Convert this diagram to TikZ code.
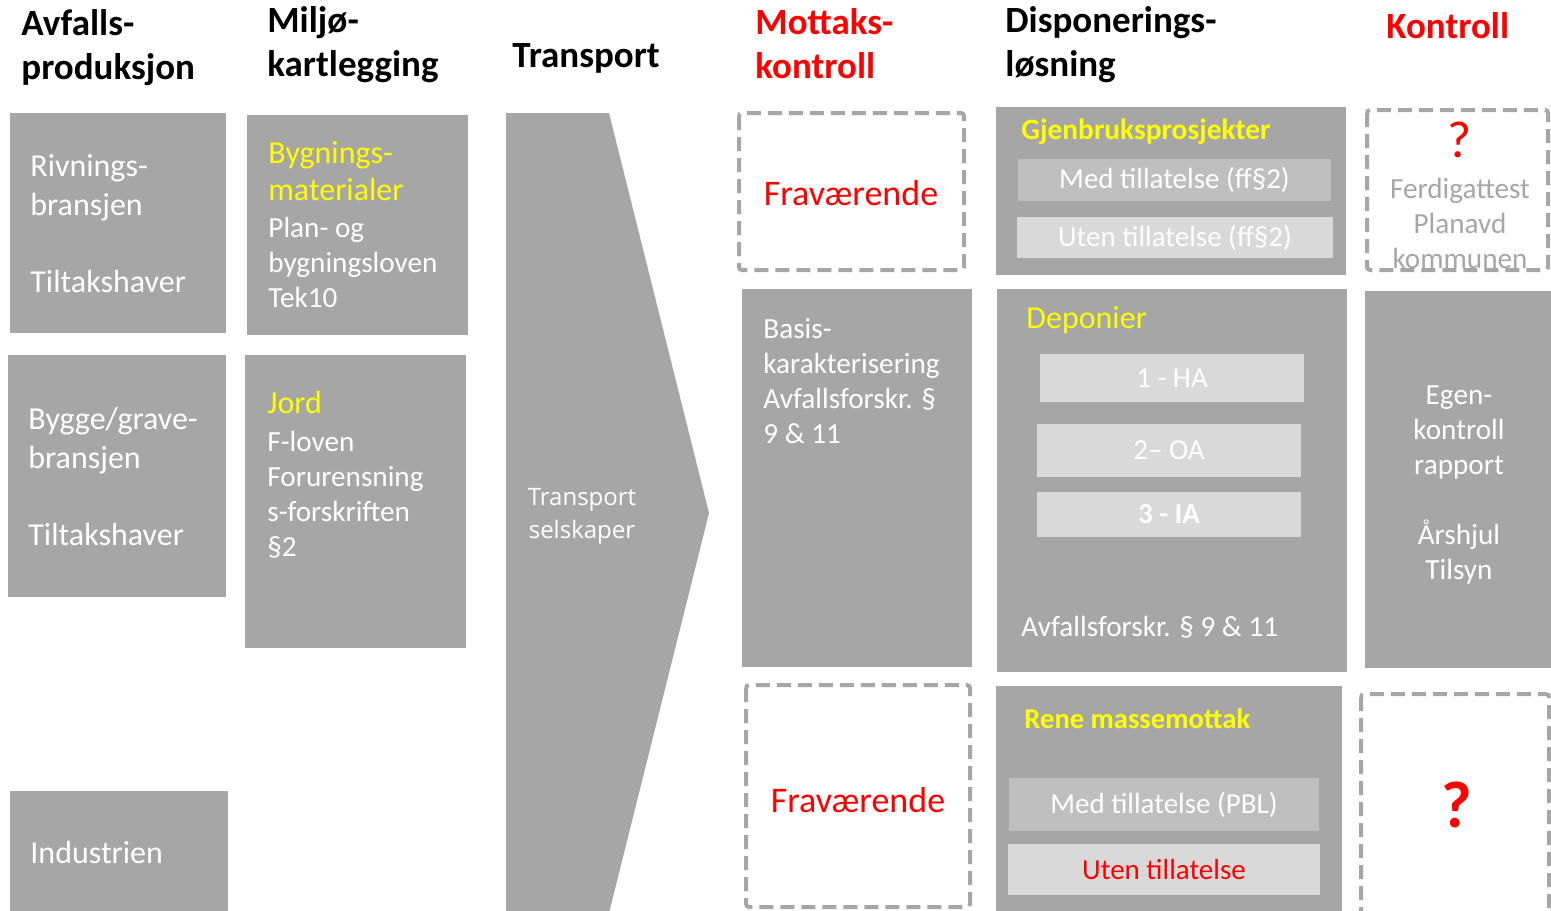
\documentclass[tikz,border=0pt]{standalone}
\usepackage{fontspec}
\setmainfont{Carlito}
\newfontfamily\osans{Open Sans}
\definecolor{boxgray}{HTML}{A6A6A6}
\definecolor{lightA}{HTML}{BFBFBF}
\definecolor{lightB}{HTML}{D9D9D9}
\definecolor{yel}{HTML}{FFFF00}
\definecolor{rd}{HTML}{FF0000}
\begin{document}
\begin{tikzpicture}[x=0.5pt,y=-0.5pt,
  gbox/.style={fill=boxgray},
  dbox/.style={draw=boxgray,line width=2pt,dash pattern=on 7pt off 3.5pt,rounded corners=1.5pt},
  hdr/.style={inner sep=0pt,anchor=base west,align=left,font=\bfseries\fontsize{18.5}{22}\selectfont},
  body/.style={inner sep=0pt,anchor=base west,align=left,text=white,font=\fontsize{14.6}{17.5}\selectfont},
  big/.style={inner sep=0pt,anchor=base west,align=left,text=white,font=\fontsize{16}{19.25}\selectfont},
  ttl/.style={inner sep=0pt,anchor=base west,text=yel,font=\fontsize{16}{18.5}\selectfont},
  ibox/.style={inner sep=0pt,text=white,font=\fontsize{14.5}{17}\selectfont}
]
\useasboundingbox (0,0) rectangle (1551,910);
\clip (0,0) rectangle (1551,910);
\fill[white] (0,0) rectangle (1551,910);

% headers (base anchor = last line baseline)
\node[hdr] (h1) at (21,79) {Avfalls-\\produksjon};
\node[hdr] (h2) at (267,76) {Miljø-\\kartlegging};
\node[hdr] (h3) at (512,67) {Transport};
\node[hdr,text=rd] (h4) at (755,78) {Mottaks-\\kontroll};
\node[hdr] (h5) at (1005,76) {Disponerings-\\løsning};
\node[hdr,text=rd] (h6) at (1386,39) {Kontroll};

% column 1
\path[gbox] (10,113) rectangle (226,333);
\node[big] (a1) at (30,292) {Rivnings-\\bransjen\\\mbox{}\\Tiltakshaver};
\path[gbox] (8,355) rectangle (226,597);
\node[big] (a2) at (28,545) {Bygge/grave-\\bransjen\\\mbox{}\\Tiltakshaver};
\path[gbox] (10,791) rectangle (228,915);
\node[big] (a3) at (30,863) {Industrien};

% column 2
\path[gbox] (247,115) rectangle (468,335);
\node[ttl,align=left] (b1t) at (268,200) {Bygnings-\\materialer};
\node[body] (b1) at (268,307) {Plan- og\\bygningsloven\\Tek10};
\path[gbox] (245,355) rectangle (466,648);
\node[ttl] (b2t) at (267,413) {Jord};
\node[body] (b2) at (267,556) {F-loven\\Forurensning\\s-forskriften\\§2};

% transport arrow
\fill[boxgray] (506,113) -- (609,113) -- (709,513) -- (609,913) -- (506,913) -- cycle;
\node[inner sep=0pt,anchor=base,align=center,text=white,font=\osans\fontsize{12}{16.5}\selectfont] (tr) at (582,538) {Transport\\selskaper};

% column 4
\draw[dbox] (739,113) rectangle (964,270);
\node[inner sep=0pt,text=rd,font=\fontsize{18}{21}\selectfont] (fr1) at (851,193) {Fraværende};
\path[gbox] (742,289) rectangle (972,667);
\node[body] (c2) at (763,443) {Basis-\\karakterisering\\Avfallsforskr. §\\9 \& 11};
\draw[dbox] (746,685) rectangle (970,907);
\node[inner sep=0pt,text=rd,font=\fontsize{18}{21}\selectfont] (fr2) at (858,800) {Fraværende};

% column 5
\path[gbox] (996,107) rectangle (1346,275);
\node[inner sep=0pt,anchor=base west,text=yel,font=\bfseries\fontsize{14.7}{17}\selectfont] (d1t) at (1021,139) {Gjenbruksprosjekter};
\node[ibox,fill=lightA,minimum width=156.5pt,minimum height=21pt] (d1a) at (1174.5,180) {Med tillatelse (ff§2)};
\node[ibox,fill=lightB,minimum width=158pt,minimum height=20.5pt] (d1b) at (1175,237.5) {Uten tillatelse (ff§2)};

\path[gbox] (997,289) rectangle (1347,672);
\node[ttl] (d2t) at (1026,328) {Deponier};
\node[ibox,fill=lightB,minimum width=132pt,minimum height=24pt] (ha) at (1172,378) {1 - HA};
\node[ibox,fill=lightB,minimum width=132pt,minimum height=26.5pt] (oa) at (1169,450.5) {2– OA};
\node[ibox,fill=lightB,minimum width=132pt,minimum height=22.5pt,font=\bfseries\fontsize{14.5}{17}\selectfont] (ia) at (1169,514.5) {3 - IA};
\node[body] (d2b) at (1021,636) {Avfallsforskr. § 9 \& 11};

\path[gbox] (996,686) rectangle (1342,915);
\node[inner sep=0pt,anchor=base west,text=yel,font=\bfseries\fontsize{14.3}{17}\selectfont] (d3t) at (1024,728) {Rene massemottak};
\node[ibox,fill=lightA,minimum width=155pt,minimum height=26.5pt] (pbl) at (1164,804.5) {Med tillatelse (PBL)};
\node[ibox,fill=lightB,minimum width=156pt,minimum height=25.5pt,text=rd] (ut3) at (1164,869.5) {Uten tillatelse};

% column 6
\draw[dbox] (1367,110) rectangle (1548,270);
\node[inner sep=0pt,text=rd,font=\fontsize{26}{30}\selectfont] (q1) at (1460,140) {?};
\node[inner sep=0pt,anchor=base,align=center,text=boxgray,font=\fontsize{14.6}{17.5}\selectfont] (e1) at (1460,268) {Ferdigattest\\Planavd\\kommunen};
\path[gbox] (1365,291) rectangle (1555,668);
\node[inner sep=0pt,anchor=base,align=center,text=white,font=\fontsize{14.6}{17.5}\selectfont] (e2) at (1459,579) {Egen-\\kontroll\\rapport\\\mbox{}\\Årshjul\\Tilsyn};
\draw[dbox] (1361,694) rectangle (1549,920);
\node[inner sep=0pt,text=rd,font=\bfseries\fontsize{33}{38}\selectfont] (q2) at (1457,805) {?};
\end{tikzpicture}
\end{document}
